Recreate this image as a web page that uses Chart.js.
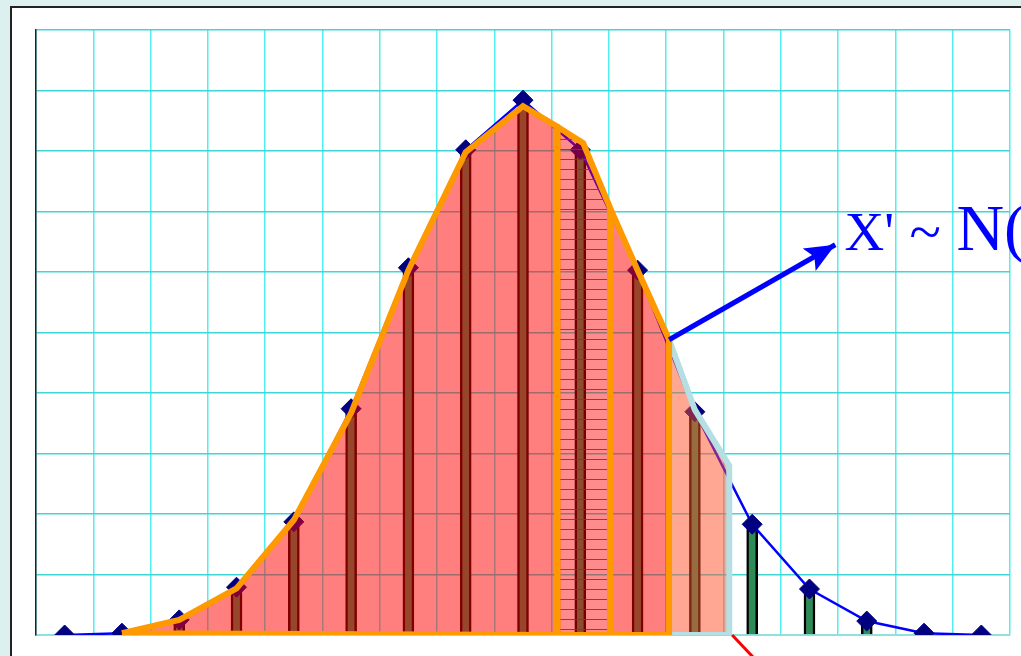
<!DOCTYPE html>
<html>
<head>
<meta charset="utf-8">
<script src="https://cdn.jsdelivr.net/npm/chart.js@4"></script>
<style>
  html, body { margin: 0; padding: 0; width: 1021px; height: 656px; overflow: hidden; background: #dcf0f0; }
  .panel { position: absolute; left: 10px; top: 6px; width: 1040px; height: 680px; background: #fff; border: 2px solid #222; }
  #chart { position: absolute; left: 0; top: 0; }
</style>
</head>
<body>
<div class="panel"></div>
<canvas id="chart" width="1021" height="656"></canvas>
<script>
// categories 0..16 and the distribution
const positions = [0, 1, 2, 3, 4, 5, 6, 7, 8, 9, 10, 11, 12, 13, 14, 15, 16];
const probs = [0.0, 0.03, 0.25, 0.79, 1.87, 3.74, 6.07, 8.02, 8.84, 8.02, 6.03, 3.69, 1.83, 0.76, 0.23, 0.03, 0.0];
const bars = [null, null, 0.25, 0.79, 1.87, 3.74, 6.07, 8.02, 8.84, 8.02, 6.03, 3.69, 1.83, 0.76, 0.23, null, null];

// shaded areas (x in category units, y in chart units)
const leftX = [1, 2, 3, 4, 5, 6, 7, 8, 8.6, 8.6, 1];
const leftY = [0.03, 0.25, 0.77, 1.9, 3.67, 6.03, 7.98, 8.74, 8.4, 0, 0.03];
const midX = [8.6, 9.05, 9.52, 9.52, 8.6, 8.6];
const midY = [8.4, 8.13, 7.06, 0, 0, 8.4];
const rightX = [9.52, 10, 10.55, 10.55, 9.52, 9.52];
const rightY = [7.06, 6.03, 4.88, 0, 0, 7.06];
const tailX = [10.55, 11, 11.6, 11.6, 10.55, 10.55];
const tailY = [4.88, 3.72, 2.8, 0, 0, 4.88];

// arrows and label
const arrowX = [10.55, 13.45];
const arrowY = [4.88, 6.45];
const redX = [11.65, 12.1];
const redY = [0, -0.45];
const labelAt = [13.61, 6.36];
const labelParts = ["X'", '~', 'N('];

const pts = (xs, ys) => xs.map((x, i) => ({x: x, y: ys[i]}));

const canvas = document.getElementById('chart');
const ctx = canvas.getContext('2d');

function hatch() {
  const c = document.createElement('canvas');
  c.width = 8; c.height = 10;
  const g = c.getContext('2d');
  g.fillStyle = 'rgba(255,0,0,0.45)';
  g.fillRect(0, 0, 8, 10);
  g.fillStyle = 'rgba(255,0,0,0.9)';
  g.fillRect(0, 9, 8, 1);
  return ctx.createPattern(c, 'repeat');
}

const arrowHead = {
  id: 'arrowHead',
  afterDatasetsDraw(chart) {
    const meta = chart.getDatasetMeta(0);
    const a = meta.data[0], b = meta.data[1];
    const ang = Math.atan2(b.y - a.y, b.x - a.x);
    const len = 30, half = 13;
    const c = chart.ctx;
    c.save();
    c.fillStyle = '#0000ff';
    c.beginPath();
    c.moveTo(b.x, b.y);
    c.lineTo(b.x - len * Math.cos(ang) + half * Math.sin(ang), b.y - len * Math.sin(ang) - half * Math.cos(ang));
    c.lineTo(b.x - 0.8 * len * Math.cos(ang), b.y - 0.8 * len * Math.sin(ang));
    c.lineTo(b.x - len * Math.cos(ang) - half * Math.sin(ang), b.y - len * Math.sin(ang) + half * Math.cos(ang));
    c.closePath();
    c.fill();

    // label: X' ~ N(
    const x = chart.scales.x.getPixelForValue(labelAt[0]);
    const y = chart.scales.y.getPixelForValue(labelAt[1]);
    const serif = '"Liberation Serif", "Times New Roman", serif';
    c.fillStyle = '#0000ff';
    c.textBaseline = 'alphabetic';
    c.font = '55px ' + serif;
    c.fillText(labelParts[0], x, y);
    c.font = '58px ' + serif;
    c.fillText(labelParts[1], x + 65, y + 1);
    c.font = '66px ' + serif;
    c.fillText(labelParts[2], x + 112, y);
    c.restore();
  }
};

const area = (xs, ys, fill, border, order) => ({
  type: 'line',
  data: pts(xs, ys),
  backgroundColor: fill,
  borderColor: border,
  borderWidth: 6,
  borderJoinStyle: 'miter',
  pointRadius: 0,
  fill: 'shape',
  tension: 0,
  order: order
});

new Chart(canvas, {
  type: 'bar',
  data: {
    datasets: [
      {
        type: 'line',
        data: pts(arrowX, arrowY),
        borderColor: '#0000ff',
        borderWidth: 5,
        pointRadius: 0,
        fill: false,
        clip: false,
        order: 0
      },
      {
        type: 'line',
        data: pts(redX, redY),
        borderColor: '#ff0000',
        borderWidth: 3,
        pointRadius: 0,
        fill: false,
        clip: false,
        order: 5
      },
      area(leftX, leftY, 'rgba(255,0,0,0.5)', '#ff9900', 2),
      area(midX, midY, hatch(), '#ff9900', 1),
      area(rightX, rightY, 'rgba(255,0,0,0.5)', '#ff9900', 1),
      area(tailX, tailY, 'rgba(255,80,40,0.5)', '#b5dfe2', 3),
      {
        type: 'line',
        data: pts(positions, probs),
        borderColor: '#0000ff',
        borderWidth: 2.5,
        pointStyle: 'rectRot',
        pointRadius: 10,
        pointBackgroundColor: '#000080',
        pointBorderColor: '#000080',
        pointBorderWidth: 1,
        tension: 0,
        fill: false,
        order: 8
      },
      {
        type: 'bar',
        data: pts(positions, bars),
        backgroundColor: '#2e8b57',
        borderColor: '#000000',
        borderWidth: 2.5,
        barThickness: 11,
        order: 9
      }
    ]
  },
  options: {
    responsive: false,
    animation: false,
    devicePixelRatio: 1,
    layout: { padding: { left: 36, top: 30, right: 8, bottom: 21 } },
    plugins: { legend: { display: false }, tooltip: { enabled: false } },
    scales: {
      x: {
        type: 'linear',
        min: -0.5,
        max: 16.5,
        offset: false,
        afterBuildTicks: (scale) => {
          scale.ticks = positions.concat([17]).map(p => ({value: p - 0.5}));
        },
        ticks: { display: false },
        grid: { color: '#50eeee', lineWidth: 1.5, drawTicks: false, offset: false },
        border: { color: '#90e0e0', width: 2 }
      },
      y: {
        min: 0,
        max: 10,
        ticks: { display: false, stepSize: 1 },
        grid: { color: '#40d6d6', lineWidth: 1.5, drawTicks: false },
        border: { color: '#222222', width: 1.5 }
      }
    }
  },
  plugins: [arrowHead]
});
</script>
</body>
</html>
